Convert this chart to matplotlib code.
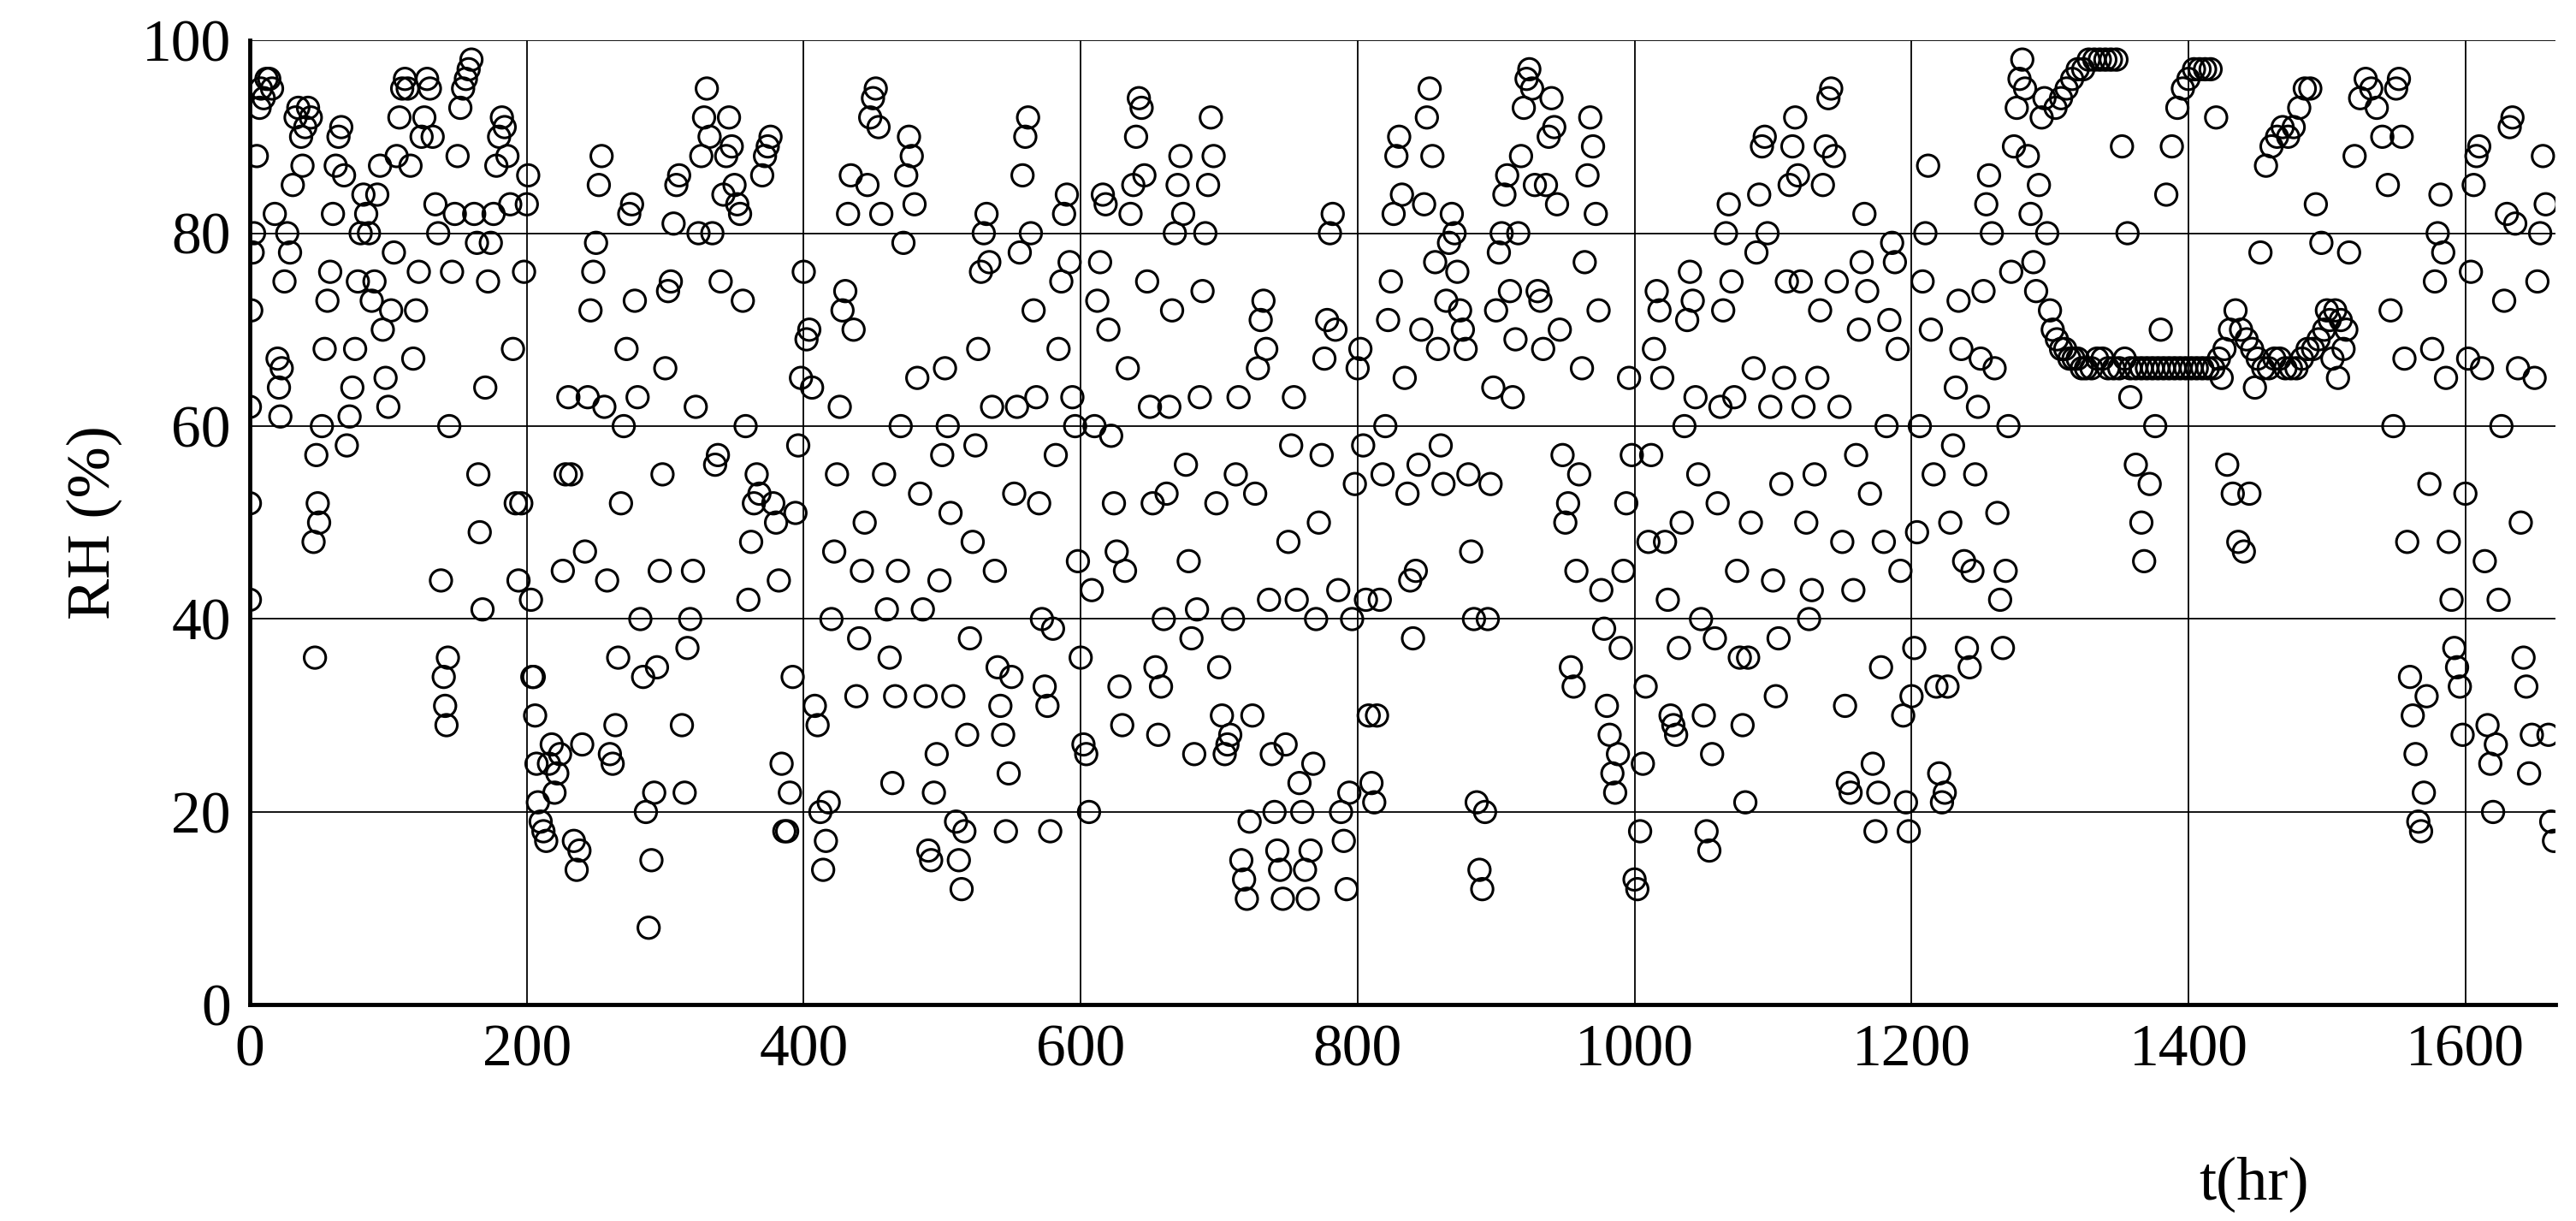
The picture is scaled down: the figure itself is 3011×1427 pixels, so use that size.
import matplotlib
matplotlib.use("Agg")
import matplotlib.pyplot as plt
import numpy as np

seg0 = [(0,42),(0,52),(0,62),(1,72),(2,78),(3,80),(5,88),(7,93),(8,95),(10,94),(12,96),(14,96),(16,95),(18,82),(20,67),(21,64),(22,61),(23,66),(25,75),(27,80),(29,78),(31,85),(33,92),(35,93),(37,90),(38,87),(40,91),(42,93),(44,92),(46,48),(47,36),(48,57),(49,52),(50,50),(52,60),(54,68),(56,73),(58,76),(60,82),(62,87),(64,90),(66,91),(68,86),(70,58),(72,61),(74,64),(76,68),(78,75),(80,80),(82,84),(84,82),(86,80),(88,73),(90,75),(92,84),(94,87),(96,70),(98,65),(100,62)]
seg1 = [(102,72),(104,78),(106,88),(108,92),(110,95),(112,96),(114,95),(116,87),(118,67),(120,72),(122,76),(124,90),(126,92),(128,96),(130,95),(132,90),(134,83),(136,80),(138,44),(140,34),(141,31),(142,29),(143,36),(144,60),(146,76),(148,82),(150,88),(152,93),(154,95),(156,96),(158,97),(160,98),(162,82),(164,79),(165,55),(166,49),(168,41),(170,64),(172,75),(174,79),(176,82),(178,87),(180,90),(182,92),(184,91),(186,88),(188,83),(190,68),(192,52),(194,44),(196,52),(198,76),(200,83),(201,86),(203,42),(204,34),(205,34),(206,30),(207,25),(208,21),(210,19),(212,18),(214,17),(216,25),(218,27)]
seg2 = [(220,22),(222,24),(224,26),(226,45),(228,55),(230,63),(232,55),(234,17),(236,14),(238,16),(240,27),(242,47),(244,63),(246,72),(248,76),(250,79),(252,85),(254,88),(256,62),(258,44),(260,26),(262,25),(264,29),(266,36),(268,52),(270,60),(272,68),(274,82),(276,83),(278,73),(280,63),(282,40),(284,34),(286,20),(288,8),(290,15),(292,22),(294,35),(296,45),(298,55),(300,66),(302,74),(304,75),(306,81),(308,85),(310,86),(312,29),(314,22),(316,37),(318,40),(320,45),(322,62),(324,80),(326,88),(328,92),(330,95),(332,90),(334,80)]
seg3 = [(336,56),(338,57),(340,75),(342,84),(344,88),(346,92),(348,89),(350,85),(352,83),(354,82),(356,73),(358,60),(360,42),(362,48),(364,52),(366,55),(368,53),(370,86),(372,88),(374,89),(376,90),(378,52),(380,50),(382,44),(384,25),(386,18),(388,18),(390,22),(392,34),(394,51),(396,58),(398,65),(400,76),(402,69),(404,70),(406,64),(408,31),(410,29),(412,20),(414,14),(416,17)]
seg4 = [(418,21),(420,40),(422,47),(424,55),(426,62),(428,72),(430,74),(432,82),(434,86),(436,70),(438,32),(440,38),(442,45),(444,50),(446,85),(448,92),(450,94),(452,95),(454,91),(456,82),(458,55),(460,41),(462,36),(464,23),(466,32),(468,45),(470,60),(472,79),(474,86),(476,90),(478,88),(480,83),(482,65),(484,53),(486,41),(488,32),(490,16),(492,15),(494,22),(496,26),(498,44),(500,57)]
seg5 = [(502,66),(504,60),(506,51),(508,32),(510,19),(512,15),(514,12),(516,18),(518,28),(520,38),(522,48),(524,58),(526,68),(528,76),(530,80),(532,82),(534,77),(536,62),(538,45),(540,35),(542,31),(544,28),(546,18),(548,24),(550,34),(552,53),(554,62),(556,78),(558,86),(560,90),(562,92),(564,80),(566,72),(568,63),(570,52),(572,40),(574,33),(576,31),(578,18),(580,39),(582,57),(584,68),(586,75),(588,82),(590,84),(592,77),(594,63),(596,60),(598,46)]
seg6 = [(600,36),(602,27),(604,26),(606,20),(608,43),(610,60),(612,73),(614,77),(616,84),(618,83),(620,70),(622,59),(624,52),(626,47),(628,33),(630,29),(632,45),(634,66),(636,82),(638,85),(640,90),(642,94),(644,93),(646,86),(648,75),(650,62),(652,52),(654,35),(656,28),(658,33),(660,40),(662,53),(664,62),(666,72),(668,80),(670,85),(672,88),(674,82),(676,56),(678,46),(680,38),(682,26),(684,41),(686,63),(688,74),(690,80),(692,85),(694,92),(696,88),(698,52)]
seg7 = [(700,35),(702,30),(704,26),(706,27),(708,28),(710,40),(712,55),(714,63),(716,15),(718,13),(720,11),(722,19),(724,30),(726,53),(728,66),(730,71),(732,73),(734,68),(736,42),(738,26),(740,20),(742,16),(744,14),(746,11),(748,27),(750,48),(752,58),(754,63),(756,42),(758,23),(760,20),(762,14),(764,11),(766,16),(768,25),(770,40),(772,50),(774,57),(776,67),(778,71),(780,80),(782,82),(784,70),(786,43),(788,20),(790,17),(792,12),(794,22),(796,40),(798,54)]
seg8 = [(800,66),(802,68),(804,58),(806,42),(808,30),(810,23),(812,21),(814,30),(816,42),(818,55),(820,60),(822,71),(824,75),(826,82),(828,88),(830,90),(832,84),(834,65),(836,53),(838,44),(840,38),(842,45),(844,56),(846,70),(848,83),(850,92),(852,95),(854,88),(856,77),(858,68),(860,58),(862,54),(864,73),(866,79),(868,82),(870,80),(872,76),(874,72),(876,70),(878,68),(880,55),(882,47),(884,40),(886,21),(888,14),(890,12),(892,20),(894,40),(896,54),(898,64)]
seg9 = [(900,72),(902,78),(904,80),(906,84),(908,86),(910,74),(912,63),(914,69),(916,80),(918,88),(920,93),(922,96),(924,97),(926,95),(928,85),(930,74),(932,73),(934,68),(936,85),(938,90),(940,94),(942,91),(944,83),(946,70),(948,57),(950,50),(952,52),(954,35),(956,33),(958,45),(960,55),(962,66),(964,77),(966,86),(968,92),(970,89),(972,82),(974,72),(976,43),(978,39),(980,31),(982,28),(984,24),(986,22),(988,26),(990,37),(992,45),(994,52),(996,65)]
seg10 = [(998,57),(1000,13),(1002,12),(1004,18),(1006,25),(1008,33),(1010,48),(1012,57),(1014,68),(1016,74),(1018,72),(1020,65),(1022,48),(1024,42),(1026,30),(1028,29),(1030,28),(1032,37),(1034,50),(1036,60),(1038,71),(1040,76),(1042,73),(1044,63),(1046,55),(1048,40),(1050,30),(1052,18),(1054,16),(1056,26),(1058,38),(1060,52),(1062,62),(1064,72),(1066,80),(1068,83),(1070,75),(1072,63),(1074,45),(1076,36),(1078,29),(1080,21),(1082,36),(1084,50),(1086,66),(1088,78),(1090,84),(1092,89),(1094,90),(1096,80),(1098,62)]
seg11 = [(1100,44),(1102,32),(1104,38),(1106,54),(1108,65),(1110,75),(1112,85),(1114,89),(1116,92),(1118,86),(1120,75),(1122,62),(1124,50),(1126,40),(1128,43),(1130,55),(1132,65),(1134,72),(1136,85),(1138,89),(1140,94),(1142,95),(1144,88),(1146,75),(1148,62),(1150,48),(1152,31),(1154,23),(1156,22),(1158,43),(1160,57),(1162,70),(1164,77),(1166,82),(1168,74),(1170,53),(1172,25),(1174,18),(1176,22),(1178,35),(1180,48),(1182,60),(1184,71),(1186,79),(1188,77),(1190,68),(1192,45),(1194,30),(1196,21),(1198,18)]
seg12 = [(1200,32),(1202,37),(1204,49),(1206,60),(1208,75),(1210,80),(1212,87),(1214,70),(1216,55),(1218,33),(1220,24),(1222,21),(1224,22),(1226,33),(1228,50),(1230,58),(1232,64),(1234,73),(1236,68),(1238,46),(1240,37),(1242,35),(1244,45),(1246,55),(1248,62),(1250,67),(1252,74),(1254,83),(1256,86),(1258,80),(1260,66),(1262,51),(1264,42),(1266,37),(1268,45),(1270,60),(1272,76),(1274,89),(1276,93),(1278,96),(1280,98),(1282,95),(1284,88),(1286,82),(1288,77),(1290,74),(1292,85),(1294,92),(1296,94),(1298,80)]
seg13 = [(1300,72),(1302,70),(1305,69),(1308,68),(1311,68),(1314,67),(1317,67),(1320,67),(1323,66),(1326,66),(1330,66),(1334,67),(1338,67),(1342,66),(1346,66),(1350,66),(1354,67),(1358,66),(1362,66),(1366,66),(1370,66),(1374,66),(1378,66),(1382,66),(1386,66),(1390,66),(1394,66),(1398,66),(1402,66),(1406,66),(1410,66),(1414,66),(1418,66),(1422,67),(1426,68),(1430,70),(1434,72),(1438,70),(1442,69),(1446,68),(1450,67),(1454,66),(1458,66),(1462,67),(1466,67),(1470,66),(1474,66),(1478,66),(1482,67),(1486,68),(1490,68),(1494,69),(1498,70),(1502,71),(1506,72),(1510,71),(1514,70)]
seg14 = [(1304,93),(1308,94),(1312,95),(1316,96),(1320,97),(1324,97),(1328,98),(1332,98),(1336,98),(1340,98),(1344,98),(1348,98),(1352,89),(1356,80),(1358,63),(1362,56),(1366,50),(1368,46),(1372,54),(1376,60),(1380,70),(1384,84),(1388,89),(1392,93),(1396,95),(1400,96),(1404,97),(1408,97),(1412,97),(1416,97),(1420,92),(1424,65),(1428,56),(1432,53),(1436,48),(1440,47),(1444,53),(1448,64),(1452,78),(1456,87),(1460,89),(1464,90),(1468,91),(1472,90),(1476,91),(1480,93),(1484,95),(1488,95),(1492,83),(1496,79),(1500,72),(1504,67),(1508,65),(1512,68)]
seg15 = [(1516,78),(1520,88),(1524,94),(1528,96),(1532,95),(1536,93),(1540,90),(1544,85),(1546,72),(1548,60),(1550,95),(1552,96),(1554,90),(1556,67),(1558,48),(1560,34),(1562,30),(1564,26),(1566,19),(1568,18),(1570,22),(1572,32),(1574,54),(1576,68),(1578,75),(1580,80),(1582,84),(1584,78),(1586,65),(1588,48),(1590,42),(1592,37),(1594,35),(1596,33),(1598,28),(1600,53),(1602,67),(1604,76),(1606,85),(1608,88),(1610,89),(1612,66),(1614,46),(1616,29),(1618,25),(1620,20),(1622,27),(1624,42),(1626,60),(1628,73),(1630,82),(1632,91),(1634,92),(1636,81),(1638,66),(1640,50),(1642,36),(1644,33),(1646,24),(1648,28),(1650,65),(1652,75),(1654,80),(1656,88),(1658,83),(1660,28),(1662,19),(1664,17)]

segments = [seg0, seg1, seg2, seg3, seg4, seg5, seg6, seg7, seg8, seg9,
            seg10, seg11, seg12, seg13, seg14, seg15]
xticks = [0, 200, 400, 600, 800, 1000, 1200, 1400, 1600]
yticks = [0, 20, 40, 60, 80, 100]

pts = np.array([p for s in segments for p in s], dtype=float)
t, rh = pts[:, 0], pts[:, 1]

plt.rcParams['font.family'] = ['Liberation Serif', 'DejaVu Serif']
fig = plt.figure(figsize=(30.11, 14.27), dpi=100)
ax = fig.add_axes([0.097, 0.177, 0.895, 0.79])
ax.scatter(t, rh, s=330, facecolors='none', edgecolors='black', linewidths=2.2, zorder=3)
ax.set_xlim(0, 1665)
ax.set_ylim(0, 100)
ax.set_xticks(xticks)
ax.set_yticks(yticks)
ax.grid(True, color='black', linewidth=1.3)
for side in ['top', 'right']:
    ax.spines[side].set_visible(False)
for side in ['left', 'bottom']:
    ax.spines[side].set_linewidth(3.5)
ax.tick_params(axis='both', labelsize=50, length=0, pad=16)
ax.set_ylabel('RH (%)', fontsize=52, labelpad=16)
fig.text(0.875, 0.03, 't(hr)', fontsize=52, ha='center', va='center')
fig.savefig('out.png', dpi=100)
